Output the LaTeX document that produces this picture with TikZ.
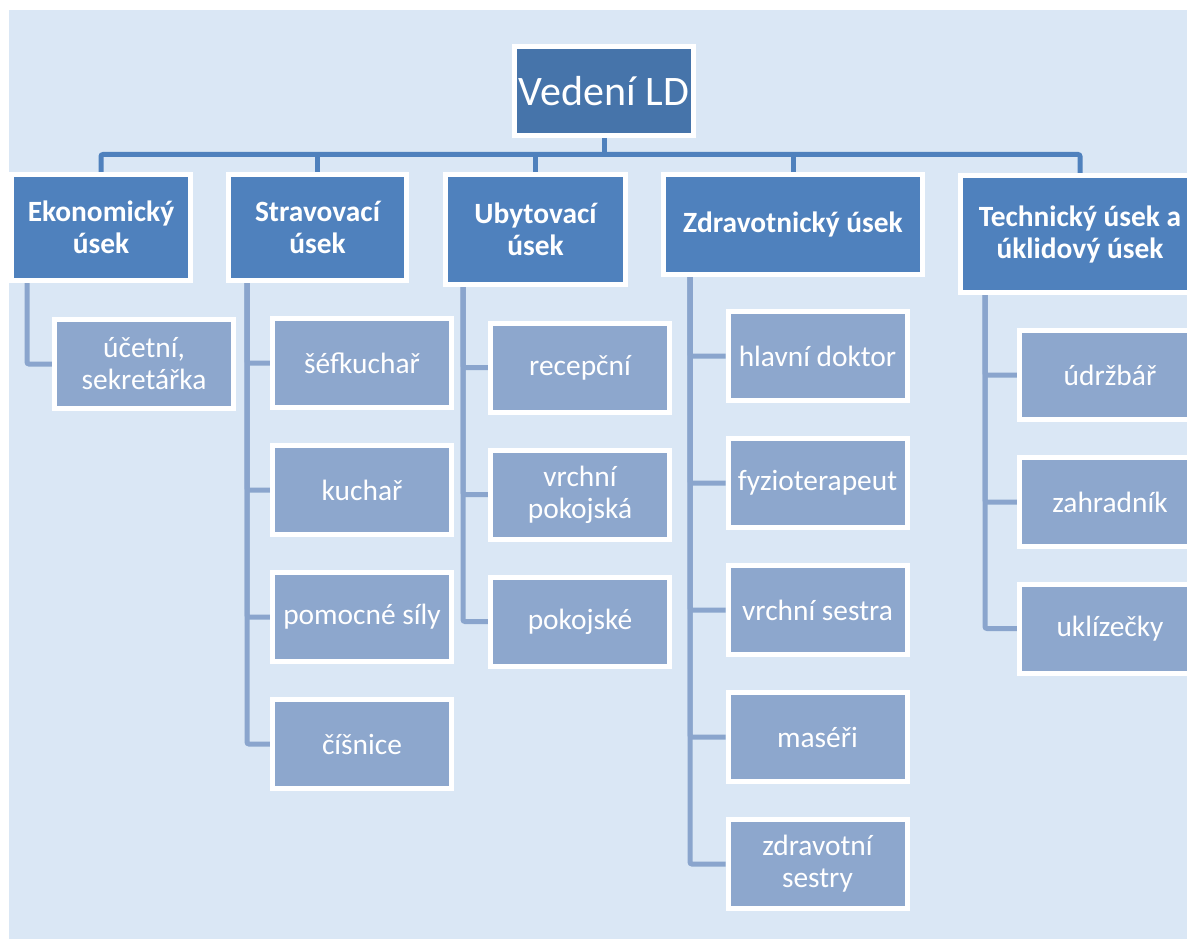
\documentclass[tikz,border=0pt]{standalone}
\usepackage{fontspec}
\setmainfont{Carlito}
\usetikzlibrary{positioning}

\definecolor{bgblue}{RGB}{218,231,245}
\definecolor{topfill}{RGB}{70,116,170}
\definecolor{headfill}{RGB}{79,129,189}
\definecolor{subfill}{RGB}{141,167,205}
\definecolor{subline}{RGB}{138,165,205}

\pgfdeclarelayer{lines}
\pgfdeclarelayer{bg}
\pgfsetlayers{bg,lines,main}

\begin{document}
\begin{tikzpicture}[
		x=1pt, y=-1pt,
		box/.style = {draw=white, line width=5pt, text=white, align=center,
				inner sep=0pt},
		topbox/.style = {box, fill=topfill, font=\fontsize{42}{48}\selectfont,
				minimum width=179pt, minimum height=89pt},
		headbox/.style = {box, fill=headfill, font=\fontsize{29.4}{32}\selectfont\bfseries},
		subbox/.style = {box, fill=subfill, font=\fontsize{29.4}{32}\selectfont,
				minimum width=179pt, minimum height=89pt},
		topline/.style = {draw=headfill, line width=5pt, rounded corners=2pt},
		subline/.style = {draw=subline, line width=5pt, rounded corners=2pt},
	]
	\path[use as bounding box] (0,0) rectangle (1187,939);
	\begin{scope}
		\clip (0,0) rectangle (1187,939);
		\begin{pgfonlayer}{bg}
			\fill[bgblue] (9,10) rectangle (1187,939);
		\end{pgfonlayer}

		\node[topbox] (vedeni) at (604,91) {Vedení LD};

		\node[headbox, minimum width=179pt, minimum height=106pt] (eko) at (101,227.5) {Ekonomický\\úsek};
		\node[headbox, minimum width=178pt, minimum height=106pt] (strav) at (317.5,227.5) {Stravovací\\úsek};
		\node[headbox, minimum width=180pt, minimum height=110pt] (ubyt) at (535.5,229.5) {Ubytovací\\úsek};
		\node[headbox, minimum width=259pt, minimum height=100pt] (zdrav) at (793,224.5) {Zdravotnický úsek};
		\node[headbox, minimum width=239pt, minimum height=117pt] (tech) at (1080,234) {Technický úsek a\\úklidový úsek};

		\node[subbox] (ucet) at (144,364) {účetní,\\sekretářka};

		\node[subbox] (sef) at (362,363) {šéfkuchař};
		\node[subbox] (kuch) at (362,490) {kuchař};
		\node[subbox] (pom) at (362,617) {pomocné síly};
		\node[subbox] (cis) at (362,744) {číšnice};

		\node[subbox] (rec) at (580,367.5) {recepční};
		\node[subbox] (vrp) at (580,494.5) {vrchní\\pokojská};
		\node[subbox] (pok) at (580,621.5) {pokojské};

		\node[subbox] (hd) at (817.5,356) {hlavní doktor};
		\node[subbox] (fyz) at (817.5,483) {fyzioterapeut};
		\node[subbox] (vs) at (817.5,610) {vrchní sestra};
		\node[subbox] (mas) at (817.5,737) {maséři};
		\node[subbox] (zs) at (817.5,864) {zdravotní\\sestry};

		\node[subbox, minimum width=181pt] (udr) at (1110,375) {údržbář};
		\node[subbox, minimum width=181pt] (zah) at (1110,502) {zahradník};
		\node[subbox, minimum width=181pt] (ukl) at (1110,628.5) {uklízečky};

		\begin{pgfonlayer}{lines}
			\coordinate (bar) at (604,154.5);
			\draw[topline] (vedeni.south) -- (bar);
			\draw[topline] (eko.north) |- (bar) -| (tech.north);
			\foreach \n in {strav,ubyt,zdrav}
				\draw[topline] (\n.north) -- (\n.north |- bar);

			\draw[subline] ([xshift=-74pt]eko.south) |- (ucet.west);
			\foreach \n in {sef,kuch,pom,cis}
				\draw[subline] ([xshift=-70.5pt]strav.south) |- (\n.west);
			\foreach \n in {rec,vrp,pok}
				\draw[subline] ([xshift=-72.5pt]ubyt.south) |- (\n.west);
			\foreach \n in {hd,fyz,vs,mas,zs}
				\draw[subline] ([xshift=-103pt]zdrav.south) |- (\n.west);
			\foreach \n in {udr,zah,ukl}
				\draw[subline] ([xshift=-95pt]tech.south) |- (\n.west);
		\end{pgfonlayer}
	\end{scope}
\end{tikzpicture}
\end{document}
